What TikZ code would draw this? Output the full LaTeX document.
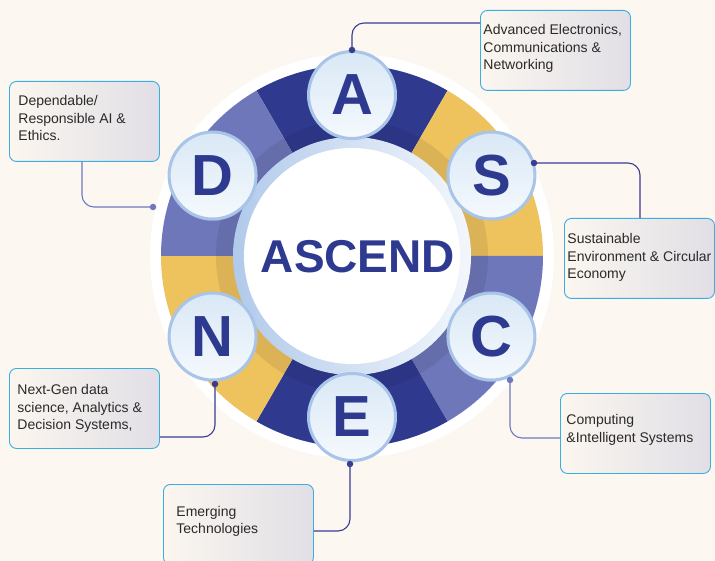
\documentclass[tikz,border=0pt]{standalone}
\usepackage{fontspec}
\setmainfont{Liberation Sans}
\usetikzlibrary{calc,shadows}
\definecolor{bgcream}{HTML}{FCF8F1}
\definecolor{ringdark}{HTML}{2F3A8F}
\definecolor{ringyellow}{HTML}{EEC35E}
\definecolor{ringpurple}{HTML}{6E77B9}
\definecolor{letterblue}{HTML}{2E3A8F}
\definecolor{circborder}{HTML}{A8C4E8}
\definecolor{circtop}{HTML}{D9E8F6}
\definecolor{circbottom}{HTML}{F5F9FD}
\definecolor{boxborder}{HTML}{3AAEDF}
\definecolor{boxleft}{HTML}{FBF6EF}
\definecolor{boxright}{HTML}{E1DFE6}
\definecolor{conndark}{HTML}{383D92}
\definecolor{connlight}{HTML}{6F78BF}
\definecolor{textgrey}{HTML}{2A2A2A}
\definecolor{innerring}{HTML}{B1CAEB}
\newcommand{\boxtxt}[3]{\parbox[c][80pt][t]{150pt}{\raggedright\leftskip=#1\relax\vspace*{#2}#3}}
\begin{document}
\begin{tikzpicture}[x=1pt,y=-1pt,
  lettercirc/.style={circle, inner sep=0pt, minimum size=87pt, draw=circborder, line width=3pt,
    top color=circtop, bottom color=circbottom, text=letterblue,
    font=\fontsize{58pt}{58pt}\selectfont\bfseries,
    drop shadow={shadow xshift=0pt, shadow yshift=-2pt, opacity=0.35, fill=circborder}},
  infobox/.style={rectangle, rounded corners=7pt, draw=boxborder, line width=0.9pt,
    left color=boxleft, right color=boxright, inner sep=0pt, anchor=north west,
    text=textgrey, font=\fontsize{14pt}{17.3pt}\selectfont},
  pin/.style={circle, inner sep=0pt, minimum size=6.5pt},
  conn/.style={line width=1.1pt, rounded corners=12pt}
]
\useasboundingbox (0,0) rectangle (715,561);
\clip (0,0) rectangle (715,561);
\fill[bgcream] (0,0) rectangle (715,561);

% ring
\coordinate (ctr) at (352,256);
\fill[white] (ctr) circle (202);
\fill[ringdark]   (ctr) -- ++(-60:191) arc (-60:-120:191) -- cycle;
\fill[ringyellow] (ctr) -- ++(0:191) arc (0:-60:191) -- cycle;
\fill[ringpurple] (ctr) -- ++(0:191) arc (0:60:191) -- cycle;
\fill[ringdark]   (ctr) -- ++(60:191) arc (60:120:191) -- cycle;
\fill[ringyellow] (ctr) -- ++(120:191) arc (120:180:191) -- cycle;
\fill[ringpurple] (ctr) -- ++(-120:191) arc (-120:-180:191) -- cycle;
\fill[black, opacity=0.08] (ctr) circle (136);
\shade[left color=innerring, right color=white!85!innerring] (ctr) circle (119);
\fill[white] (ctr) circle (108);

\node[font=\fontsize{46pt}{46pt}\selectfont\bfseries, text=letterblue, inner sep=0pt] (title) at (358,257) {ASCEND};

% boxes
\node[infobox] (bA) at (480,10) {\boxtxt{3pt}{14.3pt}{Advanced Electronics,\\Communications \&\\Networking}};
\node[infobox] (bD) at (9,81) {\boxtxt{9pt}{14.3pt}{Dependable/\\Responsible AI \&\\Ethics.}};
\node[infobox] (bS) at (564,218) {\boxtxt{3pt}{15.3pt}{Sustainable\\Environment \& Circular\\Economy}};
\node[infobox] (bN) at (9,368) {\boxtxt{8pt}{16.3pt}{Next-Gen data\\science, Analytics \&\\Decision Systems,}};
\node[infobox] (bC) at (560,393) {\boxtxt{6pt}{21.3pt}{Computing\\\&Intelligent Systems}};
\node[infobox] (bE) at (163,484) {\boxtxt{13pt}{21.7pt}{Emerging\\Technologies}};

% letter circles
\node[lettercirc] (cA) at ($(ctr)+(-90:161)$) {A};
\node[lettercirc] (cS) at ($(ctr)+(-30:161)$) {S};
\node[lettercirc] (cC) at ($(ctr)+(30:161)$) {C};
\node[lettercirc] (cE) at ($(ctr)+(90:161)$) {E};
\node[lettercirc] (cN) at ($(ctr)+(150:161)$) {N};
\node[lettercirc] (cD) at ($(ctr)+(-150:161)$) {D};

% pins
\node[pin, fill=conndark] (dA) at (352,50) {};
\node[pin, fill=conndark] (dS) at (534,163) {};
\node[pin, fill=connlight] (dC) at (510,380) {};
\node[pin, fill=conndark] (dE) at (350,464) {};
\node[pin, fill=conndark] (dN) at (215,384) {};
\node[pin, fill=connlight] (dD) at (153,207) {};

% connectors
\draw[conn, conndark] (dA.center) |- ($(bA.north west)+(0,13)$);
\draw[conn, connlight] ($(bD.south west)+(73,0)$) |- (dD.center);
\draw[conn, conndark] (dS.center) -| ($(bS.north west)+(76,0)$);
\draw[conn, conndark] (dN.center) |- ($(bN.north east)+(0,69)$);
\draw[conn, connlight] (dC.center) |- ($(bC.north west)+(0,45)$);
\draw[conn, conndark] (dE.center) |- ($(bE.north east)+(0,47)$);
\end{tikzpicture}
\end{document}
